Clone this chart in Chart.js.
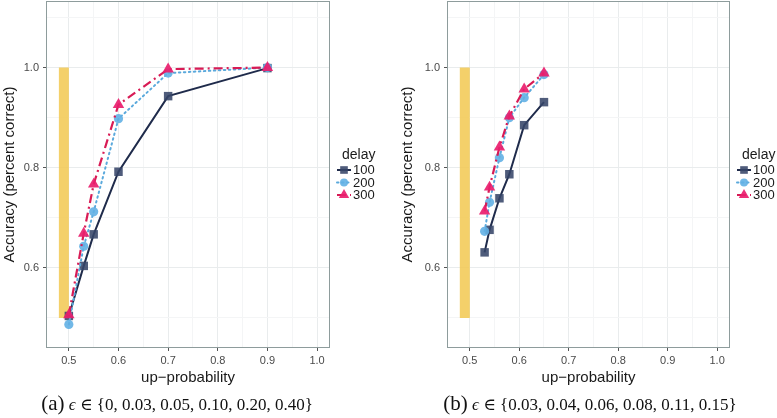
<!DOCTYPE html>
<html>
<head>
<meta charset="utf-8">
<script src="https://cdn.jsdelivr.net/npm/chart.js@4.4.1/dist/chart.umd.min.js"></script>
<style>
  body { margin: 0; background: #fff; }
  #wrap { position: relative; width: 777px; height: 418px; overflow: hidden; }
  canvas { position: absolute; top: 0; }
  #chartA { left: 0; }
  #chartB { left: 390px; }
  .caption {
    position: absolute; top: 391px; transform: translateX(-50%);
    font-family: "Liberation Serif", "DejaVu Serif", serif; font-size: 17px;
    color: #111; white-space: nowrap;
  }
  .caption .lab { font-size: 21px; }
  .caption i { font-style: italic; }
</style>
</head>
<body>
<div id="wrap">
  <canvas id="chartA" width="390" height="392"></canvas>
  <canvas id="chartB" width="387" height="392"></canvas>
  <div class="caption" style="left:177px"><span class="lab">(a)</span> <i>ϵ</i> ∈ {0, 0.03, 0.05, 0.10, 0.20, 0.40}</div>
  <div class="caption" style="left:590px"><span class="lab">(b)</span> <i>ϵ</i> ∈ {0.03, 0.04, 0.06, 0.08, 0.11, 0.15}</div>
</div>

<script>
// panel (a) values
const upProbA = [0.5, 0.53, 0.55, 0.6, 0.7, 0.9];
const delay100A = [0.504, 0.604, 0.667, 0.792, 0.943, 0.999];
const delay200A = [0.487, 0.643, 0.712, 0.898, 0.989, 1.0];
const delay300A = [0.506, 0.669, 0.767, 0.926, 0.997, 1.0];

// panel (b) values
const upProbB = [0.53, 0.54, 0.56, 0.58, 0.61, 0.65];
const delay100B = [0.631, 0.676, 0.739, 0.787, 0.885, 0.931];
const delay200B = [0.673, 0.731, 0.820, 0.900, 0.940, 0.986];
const delay300B = [0.713, 0.761, 0.841, 0.903, 0.957, 0.989];

// yellow chance band
const bandX = [0.49, 0.49];
const bandY = [0.5, 1.0];

const delays = ["100", "200", "300"];
const xTicks = [0.5, 0.6, 0.7, 0.8, 0.9, 1.0];
const xMinor = [0.55, 0.65, 0.75, 0.85, 0.95];
const yTicks = [0.6, 0.8, 1.0];
const yMinor = [0.5, 0.7, 0.9, 1.1];

const sansFont = '"Liberation Sans", Arial, sans-serif';
Chart.defaults.font.family = sansFont;

// styles for each delay
const seriesStyle = [
  { line: "#1f2b4b", point: "rgba(55,70,105,0.88)", shape: "rect", radius: 6, dash: [], width: 2, cap: "butt" },
  { line: "#5aa9dc", point: "rgba(98,176,228,0.9)", shape: "circle", radius: 4.6, dash: [1.5, 3.5], width: 2, cap: "round" },
  { line: "#d81b55", point: "rgba(233,30,110,0.92)", shape: "triangle", radius: 6.6, dash: [9, 4, 2, 4], width: 2.2, cap: "butt" }
];

function toPoints(xs, ys) {
  return xs.map((x, i) => ({ x: x, y: ys[i] }));
}

// grey frame round the plot panel
const framePlugin = {
  id: "frame",
  afterDraw(chart) {
    const a = chart.chartArea;
    const ctx = chart.ctx;
    ctx.save();
    ctx.strokeStyle = "#8e9c9c";
    ctx.lineWidth = 1;
    ctx.strokeRect(a.left + 0.5, a.top + 0.5, a.right - a.left - 1, a.bottom - a.top - 1);
    ctx.restore();
  }
};

// ggplot style legend on the right
function makeLegend() {
  return {
    id: "delayLegend",
    afterDraw(chart) {
      const ctx = chart.ctx;
      const x0 = chart.chartArea.right;
      ctx.save();
      ctx.textBaseline = "middle";
      ctx.fillStyle = "#1a1a1a";
      ctx.font = "14px " + sansFont;
      ctx.fillText("delay", x0 + 12, 155);
      delays.forEach((d, i) => {
        const st = seriesStyle[i];
        const y = 170 + i * 12.5;
        ctx.strokeStyle = st.line;
        ctx.lineWidth = st.width;
        ctx.lineCap = st.cap;
        ctx.setLineDash(st.dash);
        ctx.beginPath();
        ctx.moveTo(x0 + 7, y);
        ctx.lineTo(x0 + 21, y);
        ctx.stroke();
        ctx.setLineDash([]);
        ctx.fillStyle = st.point;
        Chart.helpers.drawPoint(ctx, { pointStyle: st.shape, radius: st.radius - 0.6, rotation: 0, borderWidth: 0 }, x0 + 14, y);
        ctx.fillStyle = "#1a1a1a";
        ctx.font = "13px " + sansFont;
        ctx.fillText(d, x0 + 23, y + 0.5);
      });
      ctx.restore();
    }
  };
}

function makeChart(id, xs, s100, s200, s300, yWidth, yTitlePad, rightPad) {
  const all = [s100, s200, s300];
  const datasets = all.map((ys, i) => {
    const st = seriesStyle[i];
    return {
      label: delays[i],
      data: toPoints(xs, ys),
      borderColor: st.line,
      borderWidth: st.width,
      borderDash: st.dash,
      borderCapStyle: st.cap,
      pointStyle: st.shape,
      pointRadius: st.radius,
      pointBackgroundColor: st.point,
      pointBorderWidth: 0,
      tension: 0,
      order: 3 - i
    };
  });
  datasets.push({
    label: "chance",
    data: toPoints(bandX, bandY),
    borderColor: "rgba(242,200,80,0.85)",
    borderWidth: 10,
    borderCapStyle: "butt",
    pointRadius: 0,
    order: 10
  });

  const isMajor = (ticks, ctx) => !!(ctx.tick && ticks.includes(ctx.tick.value));
  const gridColor = (ticks) => (ctx) => isMajor(ticks, ctx) ? "#e9eced" : "#f4f5f6";
  const tickColor = (ticks) => (ctx) => isMajor(ticks, ctx) ? "#555" : "rgba(0,0,0,0)";

  return new Chart(document.getElementById(id), {
    type: "line",
    data: { datasets: datasets },
    options: {
      responsive: false,
      animation: false,
      events: [],
      layout: { autoPadding: false, padding: { left: 0, top: 1, right: rightPad, bottom: 5 } },
      plugins: { legend: { display: false }, tooltip: { enabled: false } },
      scales: {
        x: {
          type: "linear",
          min: 0.454,
          max: 1.026,
          afterBuildTicks: s => { s.ticks = xTicks.concat(xMinor).sort((a, b) => a - b).map(v => ({ value: v })); },
          afterFit: s => { s.height = 39; },
          ticks: {
            autoSkip: false, maxRotation: 0, padding: 3, color: "#4a4a4a",
            font: { size: 11 },
            callback: v => xTicks.includes(v) ? v.toFixed(1) : ""
          },
          grid: { color: gridColor(xTicks), tickColor: tickColor(xTicks), tickLength: 3, lineWidth: 1 },
          border: { display: false },
          title: { display: true, text: "up−probability", color: "#1a1a1a", font: { size: 15 }, padding: 0 }
        },
        y: {
          type: "linear",
          min: 0.44,
          max: 1.133,
          afterBuildTicks: s => { s.ticks = yTicks.concat(yMinor).sort((a, b) => a - b).map(v => ({ value: v })); },
          afterFit: s => { s.width = yWidth; s.paddingTop = 0; s.paddingBottom = 0; },
          ticks: {
            autoSkip: false, padding: 4, color: "#4a4a4a",
            font: { size: 11 },
            callback: v => yTicks.includes(v) ? v.toFixed(1) : ""
          },
          grid: { color: gridColor(yTicks), tickColor: tickColor(yTicks), tickLength: 3, lineWidth: 1 },
          border: { display: false },
          title: { display: true, text: "Accuracy (percent correct)", color: "#1a1a1a", font: { size: 15 }, padding: { top: yTitlePad, bottom: 0 } }
        }
      }
    },
    plugins: [framePlugin, makeLegend()]
  });
}

makeChart("chartA", upProbA, delay100A, delay200A, delay300A, 46, 1, 60);
makeChart("chartB", upProbB, delay100B, delay200B, delay300B, 57, 9, 47);
</script>
</body>
</html>
